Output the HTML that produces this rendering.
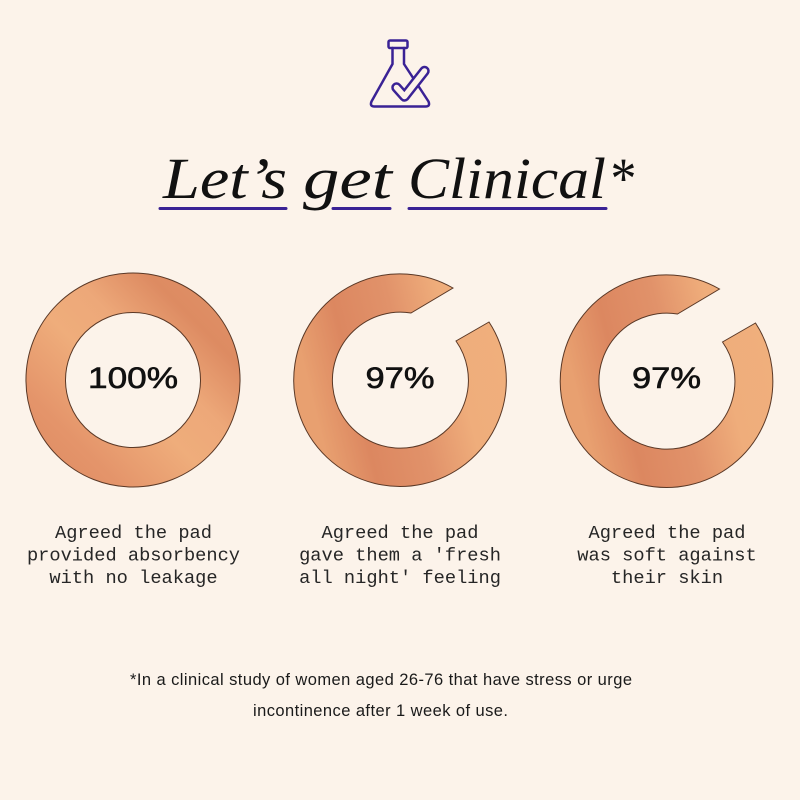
<!DOCTYPE html>
<html>
<head>
<meta charset="utf-8">
<style>
  html,body{margin:0;padding:0;background:#fcf3ea;}
  svg{display:block;}
</style>
</head>
<body>
<svg width="800" height="800" viewBox="0 0 800 800" xmlns="http://www.w3.org/2000/svg">
  <defs>
    <linearGradient id="g1" x1="0" y1="1" x2="1" y2="0">
      <stop offset="0" stop-color="#dd8a61"/>
      <stop offset="0.22" stop-color="#e4946a"/>
      <stop offset="0.45" stop-color="#efad7b"/>
      <stop offset="0.6" stop-color="#eda879"/>
      <stop offset="0.78" stop-color="#dd8b62"/>
      <stop offset="1" stop-color="#e29469"/>
    </linearGradient>
    <linearGradient id="g2" x1="0" y1="0.25" x2="1" y2="0">
      <stop offset="0" stop-color="#e8a070"/>
      <stop offset="0.2" stop-color="#dc8760"/>
      <stop offset="0.45" stop-color="#e1926a"/>
      <stop offset="0.68" stop-color="#efad7b"/>
      <stop offset="1" stop-color="#f0b07d"/>
    </linearGradient>
  </defs>
  <rect width="800" height="800" fill="#fcf3ea"/>

  <!-- Flask icon -->
  <g fill="none" stroke="#3a2295" stroke-width="2.5" stroke-linejoin="round" stroke-linecap="round">
    <rect x="388.5" y="40.5" width="19" height="7.5" rx="1.5"/>
    <path d="M392.5,48 L392.5,64 L371.5,101.5 Q369.5,106.5 374.5,106.5 L425.5,106.5 Q430.5,106.5 428.5,101.5 L404,64 L404,48"/>
  </g>
  <path d="M396.5,87.5 L404.5,96.5 L424.5,71" fill="none" stroke="#3a2295" stroke-width="10.5" stroke-linecap="round" stroke-linejoin="round"/>
  <path d="M396.5,87.5 L404.5,96.5 L424.5,71" fill="none" stroke="#fcf3ea" stroke-width="5.5" stroke-linecap="round" stroke-linejoin="round"/>

  <!-- Title -->
  <g font-family="'Liberation Serif', serif" font-style="italic" font-size="58" fill="#111">
    <text x="163" y="198" textLength="124" lengthAdjust="spacingAndGlyphs">Let’s</text>
    <text x="303" y="198" textLength="89" lengthAdjust="spacingAndGlyphs">get</text>
    <text x="408" y="198" textLength="198" lengthAdjust="spacingAndGlyphs">Clinical</text>
    <text x="608" y="198" textLength="26" lengthAdjust="spacingAndGlyphs">*</text>
  </g>
  <g stroke="#3a2295" stroke-width="3" stroke-linecap="round">
    <line x1="160" y1="208.5" x2="286" y2="208.5"/>
    <line x1="333" y1="208.5" x2="390" y2="208.5"/>
    <line x1="409" y1="208.5" x2="606" y2="208.5"/>
  </g>

  <!-- Ring 1 -->
  <path d="M133,273 A107,107 0 1 0 133,487 A107,107 0 1 0 133,273 Z M133,312.5 A67.5,67.5 0 1 1 133,447.5 A67.5,67.5 0 1 1 133,312.5 Z"
        fill="url(#g1)" fill-rule="evenodd" stroke="#5a3826" stroke-width="1"/>
  <!-- Ring 2 -->
  <path d="M453,288 A106.3,106.3 0 1 0 489,322 L456,341 A68,68 0 1 1 411,313 Z"
        fill="url(#g2)" stroke="#5a3826" stroke-width="1"/>
  <!-- Ring 3 -->
  <path transform="translate(266.5,1)" d="M453,288 A106.3,106.3 0 1 0 489,322 L456,341 A68,68 0 1 1 411,313 Z"
        fill="url(#g2)" stroke="#5a3826" stroke-width="1"/>

  <!-- Percentages -->
  <g font-family="'Liberation Sans', sans-serif" font-size="29.5" fill="#111" stroke="#111" stroke-width="0.6" text-anchor="middle">
    <text x="133" y="388" textLength="90" lengthAdjust="spacingAndGlyphs">100%</text>
    <text x="400" y="388" textLength="69" lengthAdjust="spacingAndGlyphs">97%</text>
    <text x="666.5" y="388" textLength="69" lengthAdjust="spacingAndGlyphs">97%</text>
  </g>

  <!-- Descriptions -->
  <g font-family="'Liberation Mono', monospace" font-size="18.7" fill="#262626" text-anchor="middle">
    <text x="133.5" y="538">Agreed the pad</text>
    <text x="133.5" y="560.5">provided absorbency</text>
    <text x="133.5" y="583">with no leakage</text>
    <text x="400" y="538">Agreed the pad</text>
    <text x="400" y="560.5">gave them a 'fresh</text>
    <text x="400" y="583">all night' feeling</text>
    <text x="667" y="538">Agreed the pad</text>
    <text x="667" y="560.5">was soft against</text>
    <text x="667" y="583">their skin</text>
  </g>

  <!-- Footer -->
  <g font-family="'Liberation Sans', sans-serif" font-size="16.5" fill="#1a1a1a">
    <text x="130" y="685" textLength="502" lengthAdjust="spacing">*In a clinical study of women aged 26-76 that have stress or urge</text>
    <text x="253" y="716" textLength="255" lengthAdjust="spacing">incontinence after 1 week of use.</text>
  </g>
</svg>
</body>
</html>
